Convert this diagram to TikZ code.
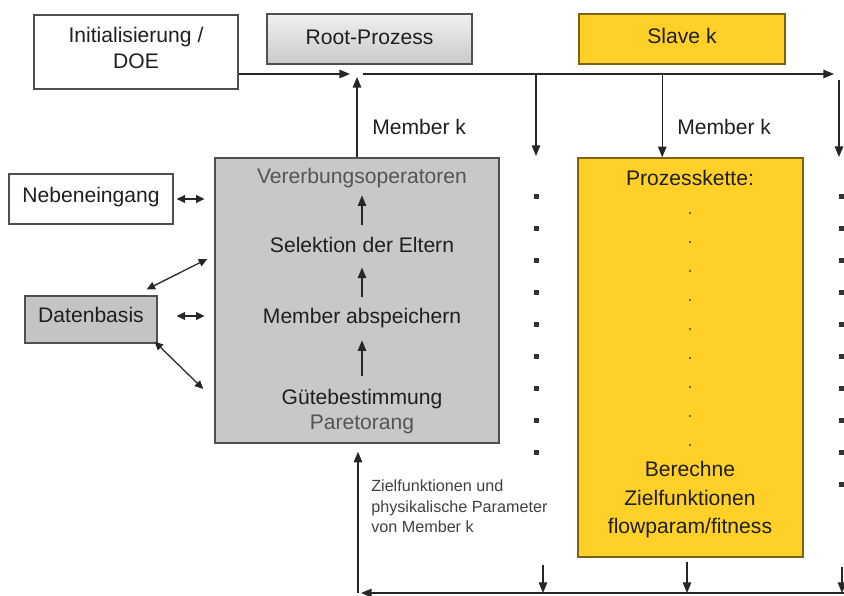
\documentclass[tikz,border=0pt]{standalone}
\usepackage{fontspec}
\setmainfont{Liberation Sans}
\usetikzlibrary{arrows.meta, positioning, calc}

\definecolor{randgrau}{RGB}{80,80,80}
\definecolor{kastengrau}{RGB}{200,200,200}
\definecolor{kopfgrau}{RGB}{196,196,196}
\definecolor{gelb}{RGB}{255,208,40}
\definecolor{gelbrand}{RGB}{120,100,20}
\definecolor{textgrau}{RGB}{85,85,85}

\tikzset{
  pfeil/.style={-{Triangle[length=7.5pt,width=6pt]}, line width=0.9pt, black!85},
  doppel/.style={{Triangle[length=6pt,width=5.5pt]}-{Triangle[length=6pt,width=5.5pt]}, line width=0.9pt, black!85},
  gross/.style={font=\fontsize{15}{20.3}\selectfont, text=black!88, inner sep=0pt},
  klein/.style={font=\fontsize{11.5}{14.6}\selectfont, text=black!75, inner sep=0pt, align=left},
  kasten/.style={gross, draw=randgrau, line width=0.8pt, align=center, text depth=2.3pt},
}

\begin{document}
\begin{tikzpicture}[x=0.025cm, y=-0.025cm]
    \useasboundingbox (0,0) rectangle (844,596);

    % Kopfzeile
    \node[kasten, font=\fontsize{15}{18.1}\selectfont, text depth=6pt, minimum width=5.1cm, minimum height=1.85cm] (init) at (136,52) {Initialisierung /\\DOE};
    \node[kasten, top color=gray!12, bottom color=gray!42, minimum width=5.125cm, minimum height=1.25cm] (root) at (369.5,39) {Root-Prozess};
    \node[kasten, fill=gelb, draw=gelbrand, text depth=4pt, minimum width=5.15cm, minimum height=1.25cm] (slave) at (682,39) {Slave k};

    % Root-Prozess
    \node[draw=randgrau, line width=1pt, fill=kastengrau, minimum width=7.1cm, minimum height=7.125cm] (gakern) at (357,300.5) {};
    \node[gross, text=textgrau, anchor=base] (verer) at (362,184) {Vererbungsoperatoren};
    \node[gross, anchor=base] (selek) at (362,253) {Selektion der Eltern};
    \node[gross, anchor=base] (abspei) at (362,324) {Member abspeichern};
    \node[gross, anchor=base] (guete) at (362,405) {Gütebestimmung};
    \node[gross, text=textgrau, anchor=base] (pareto) at (362,430) {Paretorang};

    \draw[pfeil, shorten <=8.5pt, shorten >=4.8pt] (selek.north) -- (verer.south);
    \draw[pfeil, shorten <=7.8pt, shorten >=10pt] (abspei.north) -- (selek.south);
    \draw[pfeil, shorten <=9.2pt, shorten >=8.3pt] (guete.north) -- (abspei.south);

    % Slave k
    \node[draw=gelbrand, line width=1pt, fill=gelb, minimum width=5.625cm, minimum height=9.975cm] (kette) at (690.5,357.5) {};
    \node[gross, anchor=base] (prozk) at (690,186) {Prozesskette:};
    \foreach \y in {213,242,...,445}
        \fill[black!70] (690,\y) circle (1.1);
    \node[gross, align=center, anchor=north] (berech) at (690,461) {Berechne\\Zielfunktionen\\flowparam/fitness};

    % Nebeneingang und Datenbasis
    \node[kasten, text depth=6pt, minimum width=4.1cm, minimum height=1.25cm] (neben) at (91,199) {Nebeneingang};
    \node[kasten, fill=kopfgrau, text depth=6.5pt, minimum width=3.3cm, minimum height=1.175cm] (daten) at (91,319.5) {Datenbasis};

    \draw[doppel] ($(neben.east)+(3,0)$) -- ($(neben.east)+(31,0)$);
    \draw[doppel] ($(daten.east)+(19,-3.5)$) -- ($(daten.east)+(47,-3.5)$);
    \draw[doppel] ($(daten.north east)+(-11,-6)$) -- ($(gakern.west)+(-7,-41.5)$);
    \draw[doppel] ($(daten.south east)+(-3,-2)$) -- ($(gakern.west)+(-11,88.5)$);

    % Verteilung der Member
    \coordinate (hub) at (358,74);
    \coordinate (ost) at (834,74);
    \coordinate (spL) at (536,74);
    \coordinate (spR) at (839,80);
    \coordinate (kettein) at ($(kette.north west)+(85,0)$);

    \draw[pfeil] (init.east |- hub) -- ($(hub)+(-8,0)$);
    \draw[pfeil] ($(hub)+(5,0)$) -- (ost);
    \draw[pfeil] (gakern.north) -- ($(hub)+(-1,3)$);
    \draw[pfeil] (spL) -- ++(0,82);
    \draw[pfeil] (hub -| kettein) -- (kettein);
    \draw[pfeil] (spR) -- ++(0,77);

    \node[gross, anchor=base west] (memL) at (372,135) {Member k};
    \node[gross, anchor=base west] (memR) at (677,135) {Member k};

    \foreach \y in {197,229,...,453}
        \fill[black!80] (533.5,\y-2.5) rectangle ++(5,5);
    \foreach \y in {197,229,...,485}
        \fill[black!80] (838.5,\y-2.5) rectangle ++(5,5);

    % Rueckmeldung
    \coordinate (rueck) at (358,593);
    \coordinate (suedost) at (844,593);
    \draw[pfeil] (suedost) -- ($(rueck)+(3,0)$);
    \draw[pfeil] (rueck) -- ($(gakern.south)+(1,8)$);
    \foreach \x/\y in {543/565,687/562,842/567}
        \draw[pfeil] (\x,\y) -- (\x,\y |- rueck);

    \node[klein, anchor=west] (zielt) at (371,506.5) {Zielfunktionen und\\physikalische Parameter\\von Member k};
\end{tikzpicture}
\end{document}
